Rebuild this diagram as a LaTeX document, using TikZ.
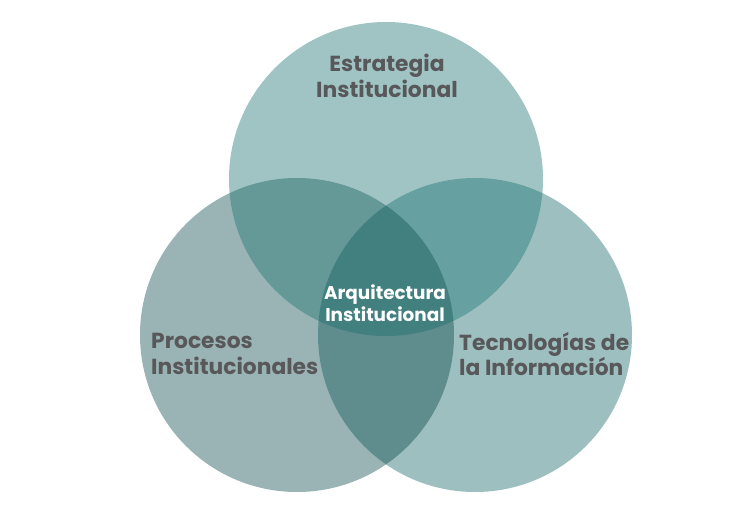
\documentclass[tikz,border=0pt]{standalone}
\usepackage{fontspec}
\setmainfont{Poppins}
\definecolor{soloTop}{HTML}{A0C4C4}
\definecolor{soloLeft}{HTML}{9AB3B4}
\definecolor{soloRight}{HTML}{9DBFC0}
\definecolor{pairTL}{HTML}{649997}
\definecolor{pairTR}{HTML}{66A0A0}
\definecolor{pairLR}{HTML}{5F8C8C}
\definecolor{core}{HTML}{41807F}
\definecolor{labelgray}{HTML}{58585A}
\begin{document}
\begin{tikzpicture}[x=1pt, y=-1pt,
  label/.style={font={\fontsize{21.8}{25.5}\selectfont\bfseries}, text=labelgray, inner sep=0pt},
  corelabel/.style={font={\fontsize{18.4}{21.5}\selectfont\bfseries}, text=white, inner sep=0pt, align=center}]

\useasboundingbox (0,0) rectangle (742,524);
\fill[white] (0,0) rectangle (742,524);

% circles
\fill[soloLeft] (297,335) circle (157);
\fill[soloRight] (475,335) circle (157);
\fill[soloTop] (386,179) circle (157);

% overlaps
\begin{scope}
\clip (386,179) circle (157);
\fill[pairTL] (297,335) circle (157);
\fill[pairTR] (475,335) circle (157);
\end{scope}
\begin{scope}
\clip (297,335) circle (157);
\fill[pairLR] (475,335) circle (157);
\end{scope}
\begin{scope}
\clip (386,179) circle (157);
\clip (297,335) circle (157);
\fill[core] (475,335) circle (157);
\end{scope}

\node[label, align=center] (estrategia) at (387,76) {Estrategia\\Institucional};
\node[label, align=left, anchor=west] (procesos) at (151,354) {Procesos\\Institucionales};
\node[label, align=left, anchor=west] (tecnologias) at (459,354) {Tecnologías de\\la Información};
\node[corelabel] (arquitectura) at (385,303) {Arquitectura\\Institucional};

\end{tikzpicture}
\end{document}
